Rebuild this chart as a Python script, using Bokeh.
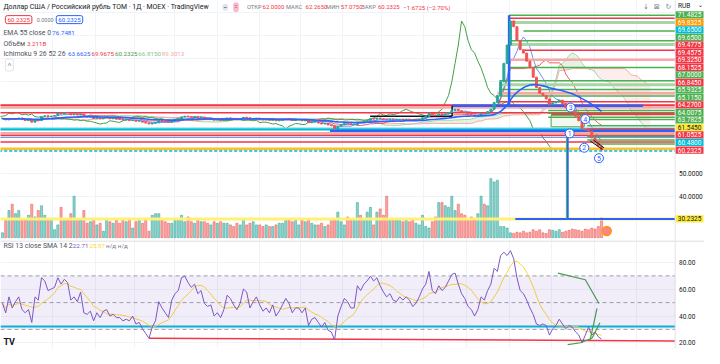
import numpy as np
from bokeh.plotting import figure
from bokeh.models import (ColumnDataSource, Range1d, FixedTicker, Label,
                          BoxAnnotation, Grid)
from bokeh.layouts import column
from bokeh.embed import file_html
from bokeh.resources import INLINE
from bokeh.core.properties import value

FONT = "Roboto"

# ---------------- data ----------------
closes = [
    73.9, 73.4, 74.0, 73.6, 73.9, 74.2, 73.5, 73.1, 73.4, 72.4,
    73.2, 73.1, 74.8, 75.2, 74.8, 75.0, 75.3, 76.3, 76.0, 76.5, 76.4,
    75.6, 75.9, 75.5, 75.9, 74.8, 74.6, 74.8, 74.0, 74.3, 73.9, 74.2,
    74.3, 73.9, 74.0, 73.7, 73.6, 73.3, 73.4, 73.1, 73.3, 72.8, 72.8, 72.4, 72.0, 71.6,
    71.9, 72.1, 73.0, 72.8, 72.5, 72.3, 73.0, 73.4, 73.6, 74.6, 75.0, 74.8, 74.6, 74.9, 74.4,
    74.6, 74.0, 73.8, 73.9, 73.3, 73.4, 73.1, 73.5, 74.2, 74.0, 73.7, 73.5, 73.8, 74.5, 74.3,
    73.6, 73.9, 74.1, 73.7, 73.4, 73.5, 73.2, 73.5, 73.0, 73.2, 73.5, 73.8, 73.6, 73.1, 73.3, 73.3, 73.0,
    73.2, 72.2, 72.4, 72.4, 72.0, 71.6, 71.8, 71.2, 70.8, 69.5, 70.6, 71.2, 71.8, 71.7, 71.4,
    71.4, 72.4, 72.2, 72.8, 73.2, 73.9, 73.7, 74.2, 73.9, 73.6, 73.4, 73.7, 73.4, 73.4, 73.6,
    73.5, 73.7, 73.5, 73.2, 73.4, 73.7, 74.3, 74.9, 76.2, 75.5, 75.3, 76.0, 75.7, 76.0, 76.6,
    77.5, 78.0, 77.4, 76.8, 76.5, 75.9, 75.6, 75.0, 75.4, 76.2, 76.0, 77.0, 78.0,
    81.0, 84.0, 90.0, 98.0, 106.0, 116.5, 114.0,
    108.0, 104.0, 102.5, 99.0, 96.0, 92.0, 87.5, 85.0,
    84.0, 82.5, 80.0, 80.8, 81.3, 82.0, 80.5, 78.8, 78.5, 77.0, 75.0, 73.0, 69.5, 69.0,
    68.5, 65.5, 64.0, 61.905, 60.2325,
]
last_open = 62.0

volumes_b = [
    0.77, 3.08, 4.36, 5.38, 3.85, 4.36, 2.82, 2.82, 3.59, 5.38,
    3.33, 4.36, 5.13, 3.59, 3.08, 3.08, 1.28, 2.05, 4.87, 3.08,
    2.82, 3.85, 6.67, 3.08, 2.82, 4.36, 2.31, 2.56, 3.08, 2.05,
    2.31, 1.03, 3.08, 2.56, 2.31, 2.82, 2.31, 3.08, 2.56, 2.82,
    1.54, 2.56, 2.82, 2.31, 2.82, 1.03, 3.59, 3.85, 3.85, 2.82,
    2.56, 2.31, 2.31, 2.82, 2.82, 3.59, 2.56, 3.33, 2.56, 2.31,
    3.08, 2.56, 2.56, 2.31, 2.05, 2.56, 2.31, 2.56, 2.31, 2.31,
    2.05, 1.79, 2.31, 2.05, 3.08, 2.05, 2.31, 2.56, 2.05, 2.05,
    1.79, 2.05, 1.79, 1.79, 2.05, 2.31, 2.31, 3.08, 2.82, 2.56,
    2.82, 2.05, 2.82, 2.56, 2.82, 2.31, 2.05, 2.05, 2.31, 1.79,
    2.05, 3.08, 2.82, 4.10, 2.56, 2.05, 3.33, 2.82,
    2.82, 5.64, 3.59, 3.08, 4.10, 4.87, 2.05, 4.10, 4.62, 3.59,
    6.67, 2.82, 2.82, 2.82, 2.82, 2.56, 2.82, 2.56, 2.82, 2.31,
    2.05, 3.59, 1.79, 1.54, 2.56, 3.33, 5.64, 5.64, 5.13, 4.87,
    6.67, 4.36, 5.38, 3.85, 3.59, 3.08, 3.33, 2.82, 3.85, 6.67,
    5.38, 5.13, 9.49, 8.97, 9.23, 1.79, 1.79, 1.54, 0.77, 0.67,
    0.87, 0.77, 1.03, 0.77, 0.87, 1.28, 1.03, 1.28, 0.77, 0.67,
    1.28, 1.18, 1.03, 1.28, 0.87, 1.03, 1.18, 1.38, 1.28, 1.18,
    1.03, 1.38, 1.28, 1.54, 1.38, 1.79, 3.211,
]

rsi_values = [
    49.5, 42.4, 54.3, 46.0, 50.7, 54.3, 44.8, 42.4, 44.8, 35.2,
    54.3, 51.9, 68.6, 66.2, 59.0, 60.2, 61.4, 68.6, 63.8, 67.4,
    65.0, 51.9, 54.3, 50.7, 57.9, 42.4, 41.2, 43.6, 36.4, 42.4,
    38.8, 43.6, 44.8, 40.0, 41.2, 38.8, 38.8, 36.4, 37.6, 36.4,
    40.0, 34.0, 35.2, 30.5, 26.9, 23.3, 31.7, 36.4, 50.7, 46.0,
    42.4, 38.8, 51.9, 56.7, 59.0, 68.6, 69.8, 65.0, 61.4, 63.8,
    56.7, 59.0, 49.5, 47.1, 48.3, 40.0, 42.4, 38.8, 44.8, 55.5,
    53.1, 48.3, 44.8, 49.5, 60.2, 57.9, 46.0, 50.7, 54.3, 48.3,
    43.6, 46.0, 42.4, 48.3, 40.0, 43.6, 48.3, 53.1, 49.5, 42.4,
    46.0, 46.0, 42.4, 46.0, 32.9, 37.6, 38.8, 35.2, 31.7, 35.2,
    29.3, 28.1, 22.1, 40.0, 47.1, 53.1, 50.7, 46.0,
    46.0, 62.6, 59.0, 63.8, 66.2, 69.8, 66.2, 68.6, 62.6, 57.9,
    54.3, 56.7, 51.9, 50.7, 54.3, 51.9, 54.3, 51.9, 47.1, 49.5,
    54.3, 60.2, 63.8, 73.3, 59.0, 56.7, 62.6, 59.0, 61.4, 66.2,
    71.0, 72.1, 63.8, 56.7, 53.1, 47.1, 44.8, 40.0, 44.8, 54.3,
    51.9, 59.0, 63.8, 75.7, 73.3, 85.2, 87.6, 85.2, 88.8, 82.9,
    68.6, 59.0, 56.7, 51.9, 46.0, 41.2, 34.0, 32.9, 34.0, 32.9,
    25.7, 30.5, 32.9, 37.6, 34.0, 30.5, 32.9, 31.7, 28.1, 25.7,
    19.8, 25.7, 31.7, 25.7, 28.1, 24.5, 22.71,
]

grid_bars = [15.3, 28.5, 40.5, 52.9, 66.1, 79.0, 91.6, 104.5, 116.5,
             129.4, 142.6, 155.6, 168.5, 181.7, 194.6]
price_grid = [30, 40, 50, 60, 70, 80, 90, 100, 110, 120]
price_ticks = [40, 50]
rsi_grid = [20, 40, 60, 80]
rsi_ticks = [20, 40, 60, 80]

RE = 206.6  # right edge of the plotting area (bars)
# horizontal drawing levels: price, start bar, end bar
level_price = [118.96, 117.71, 115.83, 112.08, 107.92, 106.25, 103.75, 99.58, 96.25,
               90.42, 88.75, 86.67, 85.00, 83.75, 81.25, 79.79, 78.75, 79.58, 77.50,
               76.46, 76.25, 75.83, 75.00, 74.58, 73.54, 70.80, 69.60, 69.17, 69.40,
               68.54, 67.70, 66.67, 66.30, 65.83, 64.60, 63.75, 62.90, 60.83,
               30.2325, 30.2325]
level_start = [155.6, 155.6, 156.8, 160.0, 155.6, 155.6, 160.4, 155.6, 155.6,
               152.6, 152.6, 152.6, 152.0, 152.6, 152.6, -1, -1, 138.1, 167.6,
               -1, 167.6, 168.5, 112.9, 167.6, 179.6, 179.6, -1, -1, 179.6,
               100.6, -1, -1, 179.6, -1, 179.6, -1, 182.0, -1,
               -1, 157.5]
level_end = [RE] * 17 + [196.7] + [RE] * 4 + [138.1] + [RE] * 16 + [RE, 195.5]
level_color = ["#4caf50", "#f23645", "#a5d6a7", "#4caf50", "#4caf50", "#a5d6a7", "#f23645",
               "#f7a9a8", "#4caf50", "#4caf50", "#a5d6a7", "#4caf50", "#f7a9a8", "#4caf50",
               "#f23645", "#f23645", "#f7a9a8", "#2962ff", "#4caf50", "#f23645", "#4caf50",
               "#f23645", "#131722", "#4caf50", "#4caf50", "#4caf50", "#80deea", "#00bcd4",
               "#f23645", "#2962ff", "#f7a9a8", "#f23645", "#4caf50", "#5c6bc0", "#4caf50",
               "#f23645", "#4caf50", "#fbc02d", "#fff176", "#2962ff"]
level_width = [1.5, 1.5, 3, 1.5, 1.5, 3, 1.5, 2.5, 1.5, 1.5, 3, 1.5, 3, 1.5, 1.5, 2, 2.5,
               2.5, 1.5, 1.5, 1.5, 2, 1.5, 1.5, 1.5, 1.5, 2, 2, 1.5, 2.5, 2, 1.5, 1.5, 1,
               1.5, 1.5, 1.5, 2.5, 3, 2]
dashed_level = 59.79

vert_x = [155.6, 138.1, 173.6, 173.2]
vert_y0 = [118.96, 79.58, 68.54, 68.54]
vert_y1 = [79.58, 75.00, 30.2325, 30.2325]
vert_color = ["#2962ff", "#131722", "#2962ff", "#4caf50"]
vert_width = [2.5, 1.5, 2, 1]

wave_text = ["3", "4", "1", "2", "5"]
wave_bar = [174.5, 179.0, 174.2, 178.7, 183.2]
wave_price = [78.75, 73.75, 67.5, 61.25, 56.7]

scale_labels = ["71.4825", "69.8325", "69.6500", "69.6500", "69.4775", "69.4575", "69.3250",
                "68.1525", "67.0000", "66.8450", "65.9325", "65.1150", "64.2700", "64.0075",
                "63.7825", "61.5450", "61.0525", "60.4800"]
scale_colors = ["#4caf50", "#ff9800", "#00bcd4", "#4caf50", "#f23645", "#f23645", "#f23645",
                "#f23645", "#4caf50", "#f23645", "#4caf50", "#4caf50", "#f23645", "#4caf50",
                "#4caf50", "#ffeb3b", "#f23645", "#00bcd4"]
last_price = 60.2325
hline_price = 30.2325

# ---------------- derived series ----------------
N = len(closes)
idx = np.arange(N)
c = np.array(closes, dtype=float)
o = np.empty_like(c)
o[0] = c[0]
o[1:] = c[:-1]
o[-1] = last_open
hi = np.maximum(o, c)
lo = np.minimum(o, c)
up = c >= o

# bar spacing here is ~1.73x wider than the original, so periods are scaled
TENKAN, KIJUN, SPANB, SHIFT, EMA_N, SMA_N = 5, 15, 30, 15, 33, 8


def donchian(n):
    out = np.empty(N)
    for i in range(N):
        a = max(0, i - n + 1)
        out[i] = (hi[a:i + 1].max() + lo[a:i + 1].min()) / 2
    return out


tenkan = donchian(TENKAN)
kijun = donchian(KIJUN)
span_a = (tenkan + kijun) / 2
span_b = donchian(SPANB)
ema = np.empty(N)
ema[0] = c[0]
kk_ = 2 / (EMA_N + 1)
for i in range(1, N):
    ema[i] = c[i] * kk_ + ema[i - 1] * (1 - kk_)
rsi = np.array(rsi_values)
rsi_sma = np.array([rsi[max(0, i - SMA_N + 1):i + 1].mean() for i in range(N)])

# ---------------- geometry (reference pixel -> data) ----------------
X0 = -0.6
BPP = 207.2 / 690.0          # bars per reference pixel


def bx(x):
    return X0 + x * BPP


X1 = bx(720)
Y_TOP, Y_BOT = 125.42, 20.83
R_TOP, R_BOT = 96.43, 15.71
PPU = (Y_TOP - Y_BOT) / 251.0  # price per reference pixel
RPU = (R_TOP - R_BOT) / 113.0


def py(y):
    return Y_TOP - y * PPU


def ry(y):
    return R_TOP - (y - 251) * RPU


GRID = "#f0f3fa"
W = 704
NAME_SIZE = "6.9px"
VAL_SIZE = "6.2px"


def make_fig(h, yr):
    f = figure(width=W, height=h, x_range=Range1d(X0, X1), y_range=yr,
               output_backend="svg", toolbar_location=None, x_axis_type=None,
               y_axis_type=None, min_border=0, outline_line_color=None,
               background_fill_color="white", border_fill_color="white")
    return f


def lab(fig, x, y, text, color="#131722", size=VAL_SIZE, font=FONT, **kw):
    fig.add_layout(Label(x=x, y=y, text=text, text_color=color, text_font_size=size,
                         text_font=font, text_baseline="middle", text_align="left", **kw))


def scale_panel(fig, ylo, yhi, ticks, fmt):
    # price-scale strip at the right side of the pane
    fig.quad(left=[bx(690)], right=[X1 + 1], bottom=[ylo], top=[yhi], fill_color="white",
             line_color=None)
    fig.segment(x0=[bx(690)], x1=[bx(690)], y0=[ylo], y1=[yhi], color="#e0e3eb",
                line_width=1)
    fig.text(x=[bx(694)] * len(ticks), y=ticks, text=[fmt.format(t) for t in ticks],
             text_font=value(FONT), text_font_size="6.5px", text_color="#131722",
             text_baseline="middle", text_align="left")


def scale_tag(fig, y, half, text, fill, tcolor):
    fig.quad(left=[bx(690.5)], right=[bx(719)], bottom=[y - half], top=[y + half],
             fill_color=fill, line_color=None)
    fig.text(x=[bx(704.7)], y=[y], text=[text], text_font=value(FONT),
             text_font_size="6.5px", text_color=tcolor, text_baseline="middle",
             text_align="center")


# ---------------- main pane ----------------
p = make_fig(240, Range1d(Y_BOT, Y_TOP))
p.extra_y_ranges = {"vol": Range1d(-0.46, 38.15)}
p.add_layout(Grid(dimension=1, ticker=FixedTicker(ticks=price_grid), grid_line_color=GRID))
p.add_layout(Grid(dimension=0, ticker=FixedTicker(ticks=grid_bars), grid_line_color=GRID))

vsrc = ColumnDataSource(dict(x=idx, top=volumes_b,
                             color=["#26a69a" if u else "#ef5350" for u in up]))
p.vbar(x="x", top="top", bottom=0, width=0.65, color="color", alpha=0.5,
       y_range_name="vol", source=vsrc)

xs_shift = idx + SHIFT
p.varea(x=xs_shift, y1=span_b, y2=np.maximum(span_a, span_b), fill_color="#a5d6a7",
        fill_alpha=0.3)
p.varea(x=xs_shift, y1=span_a, y2=np.maximum(span_a, span_b), fill_color="#f7a9a8",
        fill_alpha=0.2)
p.line(xs_shift, span_a, color="#a5d6a7", line_width=1)
p.line(xs_shift, span_b, color="#f7a9a8", line_width=1)
p.line(idx - SHIFT, c, color="#43a047", line_width=1)
p.line(idx, kijun, color="#e53935", line_width=1, alpha=0.8)
p.line(idx, tenkan, color="#2962ff", line_width=1, alpha=0.7)

lsrc = ColumnDataSource(dict(x0=level_start, x1=level_end, y=level_price,
                             color=level_color, w=level_width))
p.segment(x0="x0", x1="x1", y0="y", y1="y", color="color", line_width="w", source=lsrc)
p.segment(x0=[-1], x1=[RE], y0=[dashed_level], y1=[dashed_level], color="#00bcd4",
          line_width=1.5, line_dash="3 2")
p.segment(x0=vert_x, x1=vert_x, y0=vert_y0, y1=vert_y1, color=vert_color,
          line_width=vert_width)
p.quad(left=[168.5], right=[178.7], top=[75.4], bottom=[70.4], fill_color="#4caf50",
       fill_alpha=0.08, line_color="#4caf50", line_width=1)

csrc = ColumnDataSource(dict(x=idx, top=np.maximum(hi, lo + 0.25), bottom=lo,
                             color=["#26a69a" if u else "#ef5350" for u in up]))
p.vbar(x="x", top="top", bottom="bottom", width=0.6, color="color", source=csrc)

p.line(idx, ema, color="#2962ff", line_width=1.6)

p.segment(x0=[180.5, 181.5], x1=[184.2, 184.8], y0=[64.2, 64.6], y1=[60.6, 61.2],
          color="#131722", line_width=1)
p.scatter(x=wave_bar, y=wave_price, size=9, marker="circle", fill_color="white",
          line_color="#2962ff", line_width=1)
p.text(x=wave_bar, y=wave_price, text=wave_text, text_font=value(FONT),
       text_font_size="7px", text_color="#2962ff", text_align="center",
       text_baseline="middle")
p.scatter(x=[bx(620)], y=[py(241)], size=9, marker="circle", fill_color="#f7525f",
          fill_alpha=0.7, line_color="#ff9800", line_width=1.5)

# price scale
scale_panel(p, Y_BOT - 5, Y_TOP + 5, price_ticks, "{:.4f}")
half = 3.8 * PPU
for k, (t, col) in enumerate(zip(scale_labels, scale_colors)):
    tc = "#131722" if col == "#ffeb3b" else "white"
    scale_tag(p, py(15 + k * 7.85), half, t, col, tc)
scale_tag(p, last_price, half, f"{last_price:.4f}", "#f23645", "white")
scale_tag(p, hline_price, half, f"{hline_price:.4f}", "#ffeb3b", "#131722")
p.text(x=[bx(693)], y=[py(6)], text=["RUB"], text_font=value(FONT), text_font_size="6.5px",
       text_color="#131722", text_baseline="middle")
p.text(x=[bx(713)], y=[py(5)], text=["⌄"], text_font=value("DejaVu Sans"),
       text_font_size="6.5px", text_color="#131722", text_baseline="middle")

# header
lab(p, bx(3), py(7), "Доллар США / Российский рубль TOM · 1Д · MOEX · TradingView",
    size="6.9px")
lab(p, bx(227), py(7), "−", size="6.5px", background_fill_color="#e0e3eb",
    border_radius=4, padding=1)
lab(p, bx(238), py(7), "=", color="#f23645", size="6.5px", background_fill_color="#f8bbd0",
    border_radius=4, padding=1)
ohlc_names = [("ОТКР", 252), ("МАКС", 292), ("МИН", 333), ("ЗАКР", 369)]
ohlc_vals = [("62.0000", 268), ("62.2650", 312), ("57.0750", 348), ("60.2325", 386),
             ("−1.6725 (−2.70%)", 412)]
for t, x in ohlc_names:
    lab(p, bx(x), py(7), t, color="#787b86", size="5.8px")
for t, x in ohlc_vals:
    lab(p, bx(x), py(7), t, color="#f23645", size="6px")
lab(p, bx(5), py(20), "60.2325", color="#f23645", size="6.2px",
    border_line_color="#f23645", border_radius=2, padding=2)
lab(p, bx(37), py(20), "0.0000", color="#787b86", size="5.5px")
lab(p, bx(57), py(20), "60.2325", color="#2962ff", size="6.2px",
    border_line_color="#2962ff", border_radius=2, padding=2)
lab(p, bx(3), py(34), "EMA 55 close 0", color="#50535e", size=NAME_SIZE)
lab(p, bx(53), py(34), "76.7481", color="#2962ff")
lab(p, bx(3), py(45), "Объём", color="#50535e", size=NAME_SIZE)
lab(p, bx(27), py(45), "3.211B", color="#f23645")
lab(p, bx(3), py(56), "Ichimoku 9 26 52 26", color="#50535e", size=NAME_SIZE)
for t, x, col in [("63.6625", 69, "#2962ff"), ("69.9675", 93, "#f23645"),
                  ("60.2325", 117, "#43a047"), ("66.8150", 141, "#81c784"),
                  ("89.3013", 165, "#f7a9a8")]:
    lab(p, bx(x), py(56), t, color=col)
lab(p, bx(5), py(67.5), "˄", size="7px", border_line_color="#e0e3eb",
    border_radius=2, padding=2)
for t, x in [("↓", 657), ("⊠", 668), ("↻", 680)]:
    lab(p, bx(x), py(7), t, color="#787b86", size="7px", font="DejaVu Sans")

# ---------------- RSI pane ----------------
r = make_fig(108, Range1d(R_BOT, R_TOP))
r.add_layout(Grid(dimension=1, ticker=FixedTicker(ticks=rsi_grid), grid_line_color=GRID))
r.add_layout(Grid(dimension=0, ticker=FixedTicker(ticks=grid_bars), grid_line_color=GRID))
r.add_layout(BoxAnnotation(bottom=30, top=70, left=X0, right=RE, fill_color="#7e57c2",
                           fill_alpha=0.1, line_alpha=0))
r.segment(x0=[X0] * 3, x1=[RE] * 3, y0=[70, 50, 30], y1=[70, 50, 30], color="#787b86",
          line_alpha=0.7, line_dash="4 3", line_width=1)
r.segment(x0=[X0], x1=[RE], y0=[32.1], y1=[32.1], color="#00bcd4", line_width=2)
r.segment(x0=[45], x1=[RE], y0=[23.4], y1=[21.4], color="#f23645", line_width=1.5)
r.line(idx, rsi_sma, color="#fdd835", line_width=1)
r.line(idx, rsi, color="#7e57c2", line_width=1)
r.multi_line(xs=[[170.6, 179.0, 183.2], [173.6, 177.6, 181.1, 183.5], [180.5, 182.6]],
             ys=[[72.1, 67.1, 49.3], [18.6, 20.0, 23.6, 35.0], [22.1, 45.7]],
             color="#43a047", line_width=1.2)
scale_panel(r, R_BOT - 5, R_TOP + 5, rsi_ticks, "{:.2f}")
r.segment(x0=[X0], x1=[X1 + 1], y0=[R_TOP - 0.4], y1=[R_TOP - 0.4], color="#d1d4dc",
          line_width=1)
lab(r, bx(3), ry(257), "RSI 13 close SMA 14 2", color="#50535e", size=NAME_SIZE)
for t, x, col in [("22.71", 74, "#7e57c2"), ("25.87", 91, "#fdd835"),
                  ("н/д", 108, "#787b86"), ("н/д", 120, "#787b86")]:
    lab(r, bx(x), ry(257), t, color=col)
lab(r, bx(3), ry(357), "TV", size="9px", text_font_style="bold")

layout = column(p, r, spacing=0)
open("out.html", "w").write(file_html(layout, INLINE))
